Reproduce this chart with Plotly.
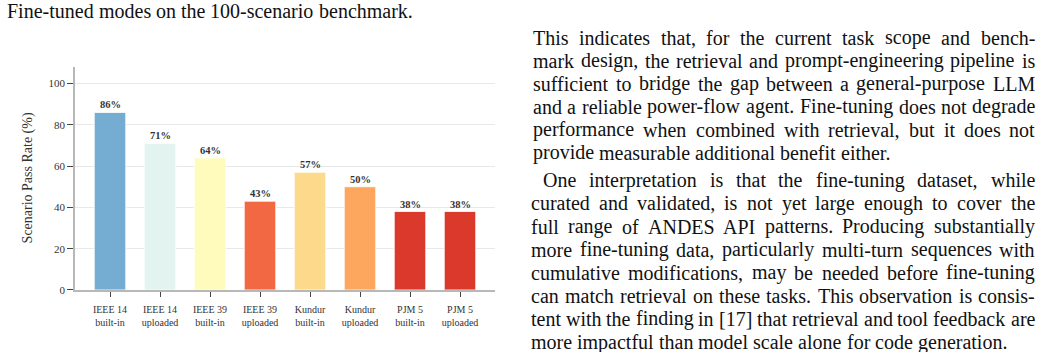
import plotly.graph_objects as go

# ---------------- data ----------------
categories = ["IEEE 14<br>built-in", "IEEE 14<br>uploaded", "IEEE 39<br>built-in",
              "IEEE 39<br>uploaded", "Kundur<br>built-in", "Kundur<br>uploaded",
              "PJM 5<br>built-in", "PJM 5<br>uploaded"]
pass_rate = [86, 71, 64, 43, 57, 50, 38, 38]
bar_colors = ["#74add1", "#e2f3f0", "#fffbbd", "#f26843",
              "#fdd98c", "#fca65e", "#db392b", "#db392b"]
y_tick_values = [0, 20, 40, 60, 80, 100]
y_title = "Scenario Pass Rate (%)"

caption = "Fine-tuned modes on the 100-scenario benchmark."
paragraph1 = [
    "This indicates that, for the current task scope and bench-",
    "mark design, the retrieval and prompt-engineering pipeline is",
    "sufficient to bridge the gap between a general-purpose LLM",
    "and a reliable power-flow agent. Fine-tuning does not degrade",
    "performance when combined with retrieval, but it does not",
    "provide measurable additional benefit either.",
]
paragraph2 = [
    "One interpretation is that the fine-tuning dataset, while",
    "curated and validated, is not yet large enough to cover the",
    "full range of ANDES API patterns. Producing substantially",
    "more fine-tuning data, particularly multi-turn sequences with",
    "cumulative modifications, may be needed before fine-tuning",
    "can match retrieval on these tasks. This observation is consis-",
    "tent with the finding in [17] that retrieval and tool feedback are",
    "more impactful than model scale alone for code generation.",
]

# ---------------- layout helpers ----------------
W, H = 1041, 352
SERIF = "Liberation Serif"


def px(x):
    return x / W


def py(y):
    return 1 - y / H


TIMES_W = {
    ' ': 250, '!': 333, '%': 833, '(': 333, ')': 333, ',': 250, '-': 333, '.': 250,
    '/': 278, ':': 278, ';': 278, '[': 333, ']': 333,
    'A': 722, 'B': 667, 'C': 667, 'D': 722, 'E': 611, 'F': 556, 'G': 722, 'H': 722,
    'I': 333, 'J': 389, 'K': 722, 'L': 611, 'M': 889, 'N': 722, 'O': 722, 'P': 556,
    'Q': 722, 'R': 667, 'S': 556, 'T': 611, 'U': 722, 'V': 722, 'W': 944, 'X': 722,
    'Y': 722, 'Z': 611,
    'a': 444, 'b': 500, 'c': 444, 'd': 500, 'e': 444, 'f': 333, 'g': 500, 'h': 500,
    'i': 278, 'j': 278, 'k': 500, 'l': 278, 'm': 778, 'n': 500, 'o': 500, 'p': 500,
    'q': 500, 'r': 333, 's': 389, 't': 278, 'u': 500, 'v': 500, 'w': 722, 'x': 500,
    'y': 500, 'z': 444,
}


def text_width(s, size):
    return sum(TIMES_W.get(c, 500) for c in s) * size / 1000.0


# ---------------- figure ----------------
fig = go.Figure()
fig.add_trace(go.Bar(
    x=categories, y=pass_rate,
    marker=dict(color=bar_colors, line=dict(color="white", width=0.8)),
    width=0.63,
    showlegend=False,
))

fig.update_layout(
    width=W, height=H,
    margin=dict(l=0, r=0, t=0, b=0),
    paper_bgcolor="white", plot_bgcolor="white",
    font=dict(family=SERIF, color="#333333"),
    xaxis=dict(
        domain=[px(75), px(495)],
        range=[-0.7, 7.7],
        showline=True, linecolor="#b8b8b8", linewidth=1.5,
        ticks="outside", ticklen=5, tickcolor="#444444", tickwidth=1,
        tickfont=dict(family=SERIF, size=10, color="#333333"),
        ticklabelstandoff=4,
        showgrid=False, zeroline=False,
    ),
    yaxis=dict(
        domain=[py(295), py(68)],
        range=[0, 108.1],
        tickvals=y_tick_values,
        showline=True, linecolor="#b8b8b8", linewidth=1.5,
        ticks="outside", ticklen=6, tickcolor="#444444", tickwidth=1,
        tickfont=dict(family=SERIF, size=11, color="#333333"),
        showgrid=True, gridcolor="#e8e8e8", gridwidth=1,
        zeroline=False,
    ),
)

annotations = []
# bar value labels
for c, v in zip(categories, pass_rate):
    annotations.append(dict(
        text=f"<b>{v}%</b>", x=c, y=v, xref="x", yref="y",
        xanchor="center", yanchor="bottom", yshift=0, showarrow=False,
        font=dict(family=SERIF, size=10.5, color="#333333"),
    ))

# y-axis title
annotations.append(dict(
    text=y_title, xref="paper", yref="paper", x=px(28), y=py(181.5),
    xanchor="center", yanchor="middle", textangle=-90, showarrow=False,
    font=dict(family=SERIF, size=14, color="#333333"),
))

BODY = 20
PAD = 2  # annotation border+pad offset


def add_line(words_line, left, right, baseline, justify):
    words = words_line.split(" ")
    widths = [text_width(w, BODY) for w in words]
    if justify and len(words) > 1:
        gap = (right - left - sum(widths)) / (len(words) - 1)
    else:
        gap = text_width(" ", BODY)
    x = left
    yc = baseline - 0.3 * BODY
    for w, wd in zip(words, widths):
        annotations.append(dict(
            text=w, xref="paper", yref="paper", x=px(x - PAD), y=py(yc),
            xanchor="left", yanchor="middle", showarrow=False,
            font=dict(family=SERIF, size=BODY, color="#111111"),
        ))
        x += wd + gap


# caption
add_line(caption, 7, 420, 17.5, False)

LEFT, RIGHT = 533, 1035
b = 44.5
for i, line in enumerate(paragraph1):
    add_line(line, LEFT, RIGHT, b + i * 23.4, justify=(i < len(paragraph1) - 1))
b2 = 189.5
for i, line in enumerate(paragraph2):
    left = LEFT + 10 if i == 0 else LEFT - 2
    add_line(line, left, RIGHT, b2 + i * 23.5, justify=(i < len(paragraph2) - 1))

fig.update_layout(annotations=annotations)
fig.write_html("out.html")
